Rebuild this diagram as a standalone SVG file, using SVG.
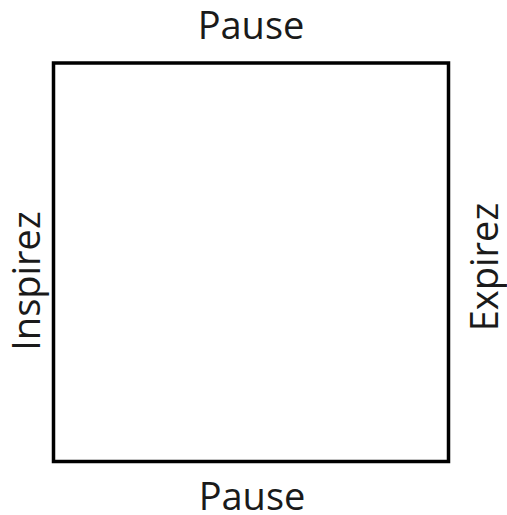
<svg xmlns="http://www.w3.org/2000/svg" width="507" height="515" viewBox="0 0 507 515">
<style>
.lbl{font-family:"Open Sans","Noto Sans",sans-serif;font-size:38px;fill:#1a1a1a;text-anchor:middle}
</style>
<rect width="507" height="515" fill="#fff"/>
<g id="square"><rect x="53.5" y="63" width="395" height="398.5" fill="none" stroke="#000" stroke-width="3.5"/></g>
<g id="connectors"></g>
<g id="pause-top"><text class="lbl" x="251" y="38.5">Pause</text></g>
<g id="pause-bottom"><text class="lbl" x="252" y="509.5">Pause</text></g>
<g id="inspirez"><text class="lbl" transform="translate(40 281) rotate(-90)">Inspirez</text></g>
<g id="expirez"><text class="lbl" transform="translate(498 267) rotate(-90)">Expirez</text></g>
</svg>
